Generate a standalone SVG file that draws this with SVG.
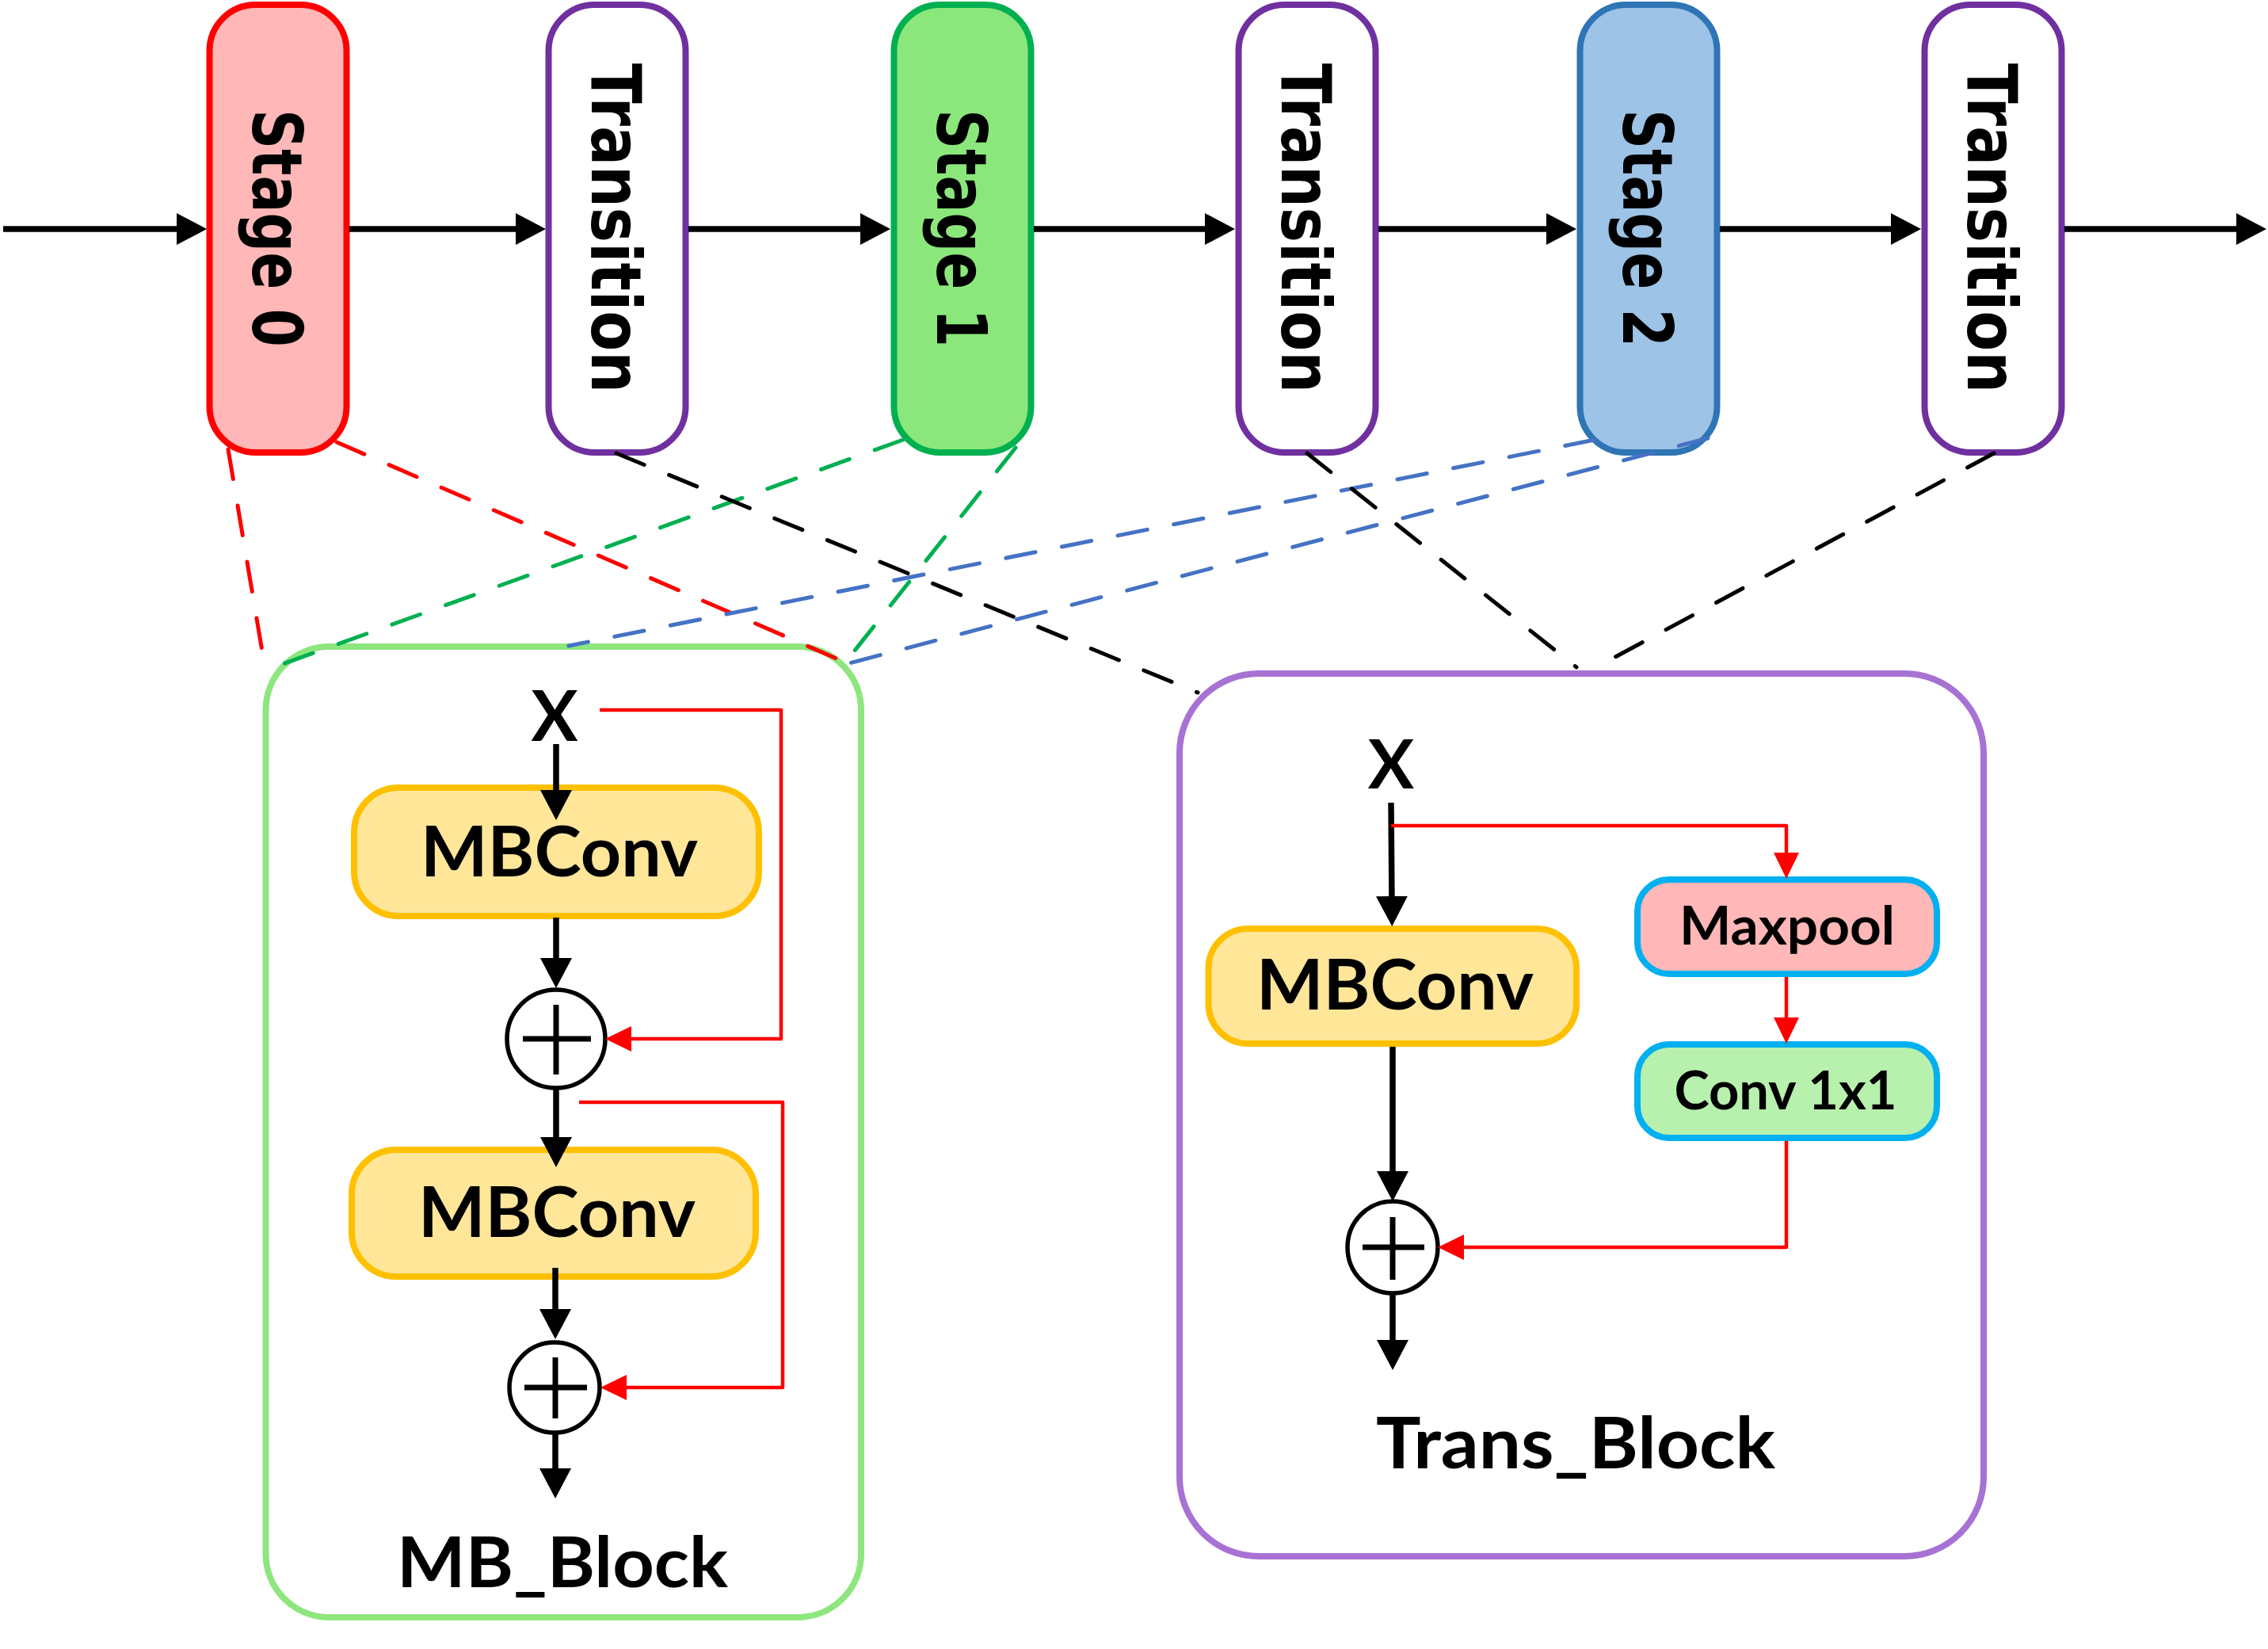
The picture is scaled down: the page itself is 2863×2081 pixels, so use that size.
<svg xmlns="http://www.w3.org/2000/svg" width="2863" height="2081" viewBox="0 0 2863 2081">
<style>
.stage{stroke-width:8}
.vt{font-family:"DejaVu Sans",Verdana,sans-serif;font-weight:bold;font-size:88px;fill:#000;text-anchor:middle}
.lbl{font-family:Lato,"Open Sans",sans-serif;font-weight:bold;fill:#000;text-anchor:middle}
.flow{stroke:#000;stroke-width:7.5;fill:none;marker-end:url(#ab)}
.skip{stroke:#FF0000;stroke-width:4.5;fill:none;stroke-linejoin:round;marker-end:url(#ar)}
.dash{stroke-width:5;stroke-linecap:round;stroke-dasharray:38 34;fill:none}
.mbc{fill:#FFE699;stroke:#FFC000;stroke-width:8}
.sum{fill:#fff;stroke:#000;stroke-width:5.5}
.plus{stroke:#000;stroke-width:7}
</style>
<defs>
<marker id="ab" viewBox="0 0 38 40" refX="8" refY="20" markerWidth="38" markerHeight="40" markerUnits="userSpaceOnUse" orient="auto"><path d="M0,0 L38,20 L0,40 z" fill="#000"/></marker>
<marker id="ar" viewBox="0 0 33 32" refX="8" refY="16" markerWidth="33" markerHeight="32" markerUnits="userSpaceOnUse" orient="auto"><path d="M0,0 L33,16 L0,32 z" fill="#FF0000"/></marker>
</defs>
<rect width="2863" height="2081" fill="#fff"/>

<!-- top chain nodes -->
<g id="stage0">
<rect class="stage" x="264.5" y="6" width="173" height="565" rx="58" fill="#FFB7B7" stroke="#FF0000"/>
<text class="vt" x="319" y="288" transform="rotate(90 319 288)" textLength="300" lengthAdjust="spacingAndGlyphs">Stage 0</text>
</g>
<g id="transition1">
<rect class="stage" x="692.5" y="6" width="173" height="565" rx="58" fill="#fff" stroke="#7030A0"/>
<text class="vt" x="747" y="288" transform="rotate(90 747 288)" textLength="416" lengthAdjust="spacingAndGlyphs">Transition</text>
</g>
<g id="stage1">
<rect class="stage" x="1128.5" y="6" width="173" height="565" rx="58" fill="#8BE77B" stroke="#00B050"/>
<text class="vt" x="1183" y="288" transform="rotate(90 1183 288)" textLength="300" lengthAdjust="spacingAndGlyphs">Stage 1</text>
</g>
<g id="transition2">
<rect class="stage" x="1563.5" y="6" width="173" height="565" rx="58" fill="#fff" stroke="#7030A0"/>
<text class="vt" x="1618" y="288" transform="rotate(90 1618 288)" textLength="416" lengthAdjust="spacingAndGlyphs">Transition</text>
</g>
<g id="stage2">
<rect class="stage" x="1994.5" y="6" width="173" height="565" rx="58" fill="#9DC3E6" stroke="#2E75B6"/>
<text class="vt" x="2049" y="288" transform="rotate(90 2049 288)" textLength="300" lengthAdjust="spacingAndGlyphs">Stage 2</text>
</g>
<g id="transition3">
<rect class="stage" x="2429.5" y="6" width="173" height="565" rx="58" fill="#fff" stroke="#7030A0"/>
<text class="vt" x="2484" y="288" transform="rotate(90 2484 288)" textLength="416" lengthAdjust="spacingAndGlyphs">Transition</text>
</g>

<!-- MB block -->
<g id="mb_block">
<rect x="335.5" y="816" width="751.5" height="1225" rx="80" fill="#fff" stroke="#8EE67E" stroke-width="8"/>
<text class="lbl" x="700" y="935" font-size="88">X</text>
<g id="mb_mbconv1">
<rect class="mbc" x="447" y="994" width="511" height="162" rx="56"/>
<text class="lbl" x="706" y="1106" font-size="88" textLength="350" lengthAdjust="spacingAndGlyphs">MBConv</text>
</g>
<g id="mb_sum1">
<ellipse class="sum" cx="702" cy="1311" rx="62" ry="62"/>
<line class="plus" x1="660" y1="1311" x2="746" y2="1311"/>
<line class="plus" x1="702" y1="1268" x2="702" y2="1356"/>
</g>
<g id="mb_mbconv2">
<rect class="mbc" x="444" y="1451" width="510" height="160" rx="56"/>
<text class="lbl" x="703" y="1561" font-size="88" textLength="350" lengthAdjust="spacingAndGlyphs">MBConv</text>
</g>
<g id="mb_sum2">
<ellipse class="sum" cx="700" cy="1751" rx="57" ry="57"/>
<line class="plus" x1="662" y1="1751" x2="741" y2="1751"/>
<line class="plus" x1="701" y1="1713" x2="701" y2="1790"/>
</g>
<text class="lbl" x="710" y="2003" font-size="88" textLength="418" lengthAdjust="spacingAndGlyphs">MB_Block</text>
</g>

<!-- Trans block -->
<g id="trans_block">
<rect x="1489" y="850" width="1015" height="1114" rx="100" fill="#fff" stroke="#A772D4" stroke-width="8"/>
<text class="lbl" x="1756" y="995" font-size="87">X</text>
<g id="tb_mbconv">
<rect class="mbc" x="1525.5" y="1172" width="464.5" height="145" rx="50"/>
<text class="lbl" x="1761" y="1274" font-size="88" textLength="350" lengthAdjust="spacingAndGlyphs">MBConv</text>
</g>
<g id="tb_maxpool">
<rect x="2067" y="1110" width="378" height="119" rx="40" fill="#FFB7B7" stroke="#00B0F0" stroke-width="8"/>
<text class="lbl" x="2256" y="1192" font-size="66" textLength="272" lengthAdjust="spacingAndGlyphs">Maxpool</text>
</g>
<g id="tb_conv">
<rect x="2067" y="1318" width="378" height="118" rx="40" fill="#B8F0AE" stroke="#00B0F0" stroke-width="8"/>
<text class="lbl" x="2254" y="1400" font-size="67" textLength="281" lengthAdjust="spacingAndGlyphs">Conv 1x1</text>
</g>
<g id="tb_sum">
<ellipse class="sum" cx="1758" cy="1574" rx="57" ry="58"/>
<line class="plus" x1="1720" y1="1574" x2="1798" y2="1574"/>
<line class="plus" x1="1758" y1="1536" x2="1758" y2="1615"/>
</g>
<text class="lbl" x="1989" y="1853" font-size="89" textLength="504" lengthAdjust="spacingAndGlyphs">Trans_Block</text>
</g>

<!-- connectors -->
<g id="connectors">
<line class="flow" x1="4" y1="289" x2="231" y2="289"/>
<line class="flow" x1="441" y1="289" x2="659" y2="289"/>
<line class="flow" x1="869" y1="289" x2="1094" y2="289"/>
<line class="flow" x1="1305" y1="289" x2="1529" y2="289"/>
<line class="flow" x1="1740" y1="289" x2="1960" y2="289"/>
<line class="flow" x1="2171" y1="289" x2="2395" y2="289"/>
<line class="flow" x1="2606" y1="289" x2="2831" y2="289"/>

<line class="flow" x1="702" y1="939" x2="702" y2="1005"/>
<line class="flow" x1="702" y1="1158" x2="702" y2="1217"/>
<line class="flow" x1="702" y1="1373" x2="702" y2="1443"/>
<line class="flow" x1="701" y1="1600" x2="701" y2="1660"/>
<line class="flow" x1="701" y1="1809" x2="701" y2="1861"/>
<polyline class="skip" points="757,896 986,896 986,1311 789,1311"/>
<polyline class="skip" points="731,1391 988,1391 988,1751 783,1751"/>

<line class="flow" x1="1756" y1="1013" x2="1757" y2="1139"/>
<polyline class="skip" points="1756,1042 2255,1042 2255,1084"/>
<line class="skip" x1="2255" y1="1233" x2="2255" y2="1292"/>
<polyline class="skip" points="2255,1440 2255,1574 1840,1574"/>
<line class="flow" x1="1758" y1="1321" x2="1758" y2="1486"/>
<line class="flow" x1="1758" y1="1632" x2="1758" y2="1699"/>

<line class="dash" stroke="#FF0000" x1="288" y1="567" x2="332" y2="828"/>
<line class="dash" stroke="#FF0000" x1="425" y1="558" x2="1065" y2="835"/>
<line class="dash" stroke="#00B050" x1="1140" y1="555" x2="357" y2="838"/>
<line class="dash" stroke="#00B050" x1="1282" y1="565" x2="1075" y2="826"/>
<line class="dash" stroke="#4472C4" x1="2013" y1="555" x2="718" y2="815"/>
<line class="dash" stroke="#4472C4" x1="2156" y1="553" x2="1068" y2="838"/>
<line class="dash" stroke="#000" x1="778" y1="572" x2="1512" y2="874"/>
<line class="dash" stroke="#000" x1="1650" y1="572" x2="1990" y2="842"/>
<line class="dash" stroke="#000" x1="2517" y1="572" x2="2013" y2="843"/>
</g>
</svg>
